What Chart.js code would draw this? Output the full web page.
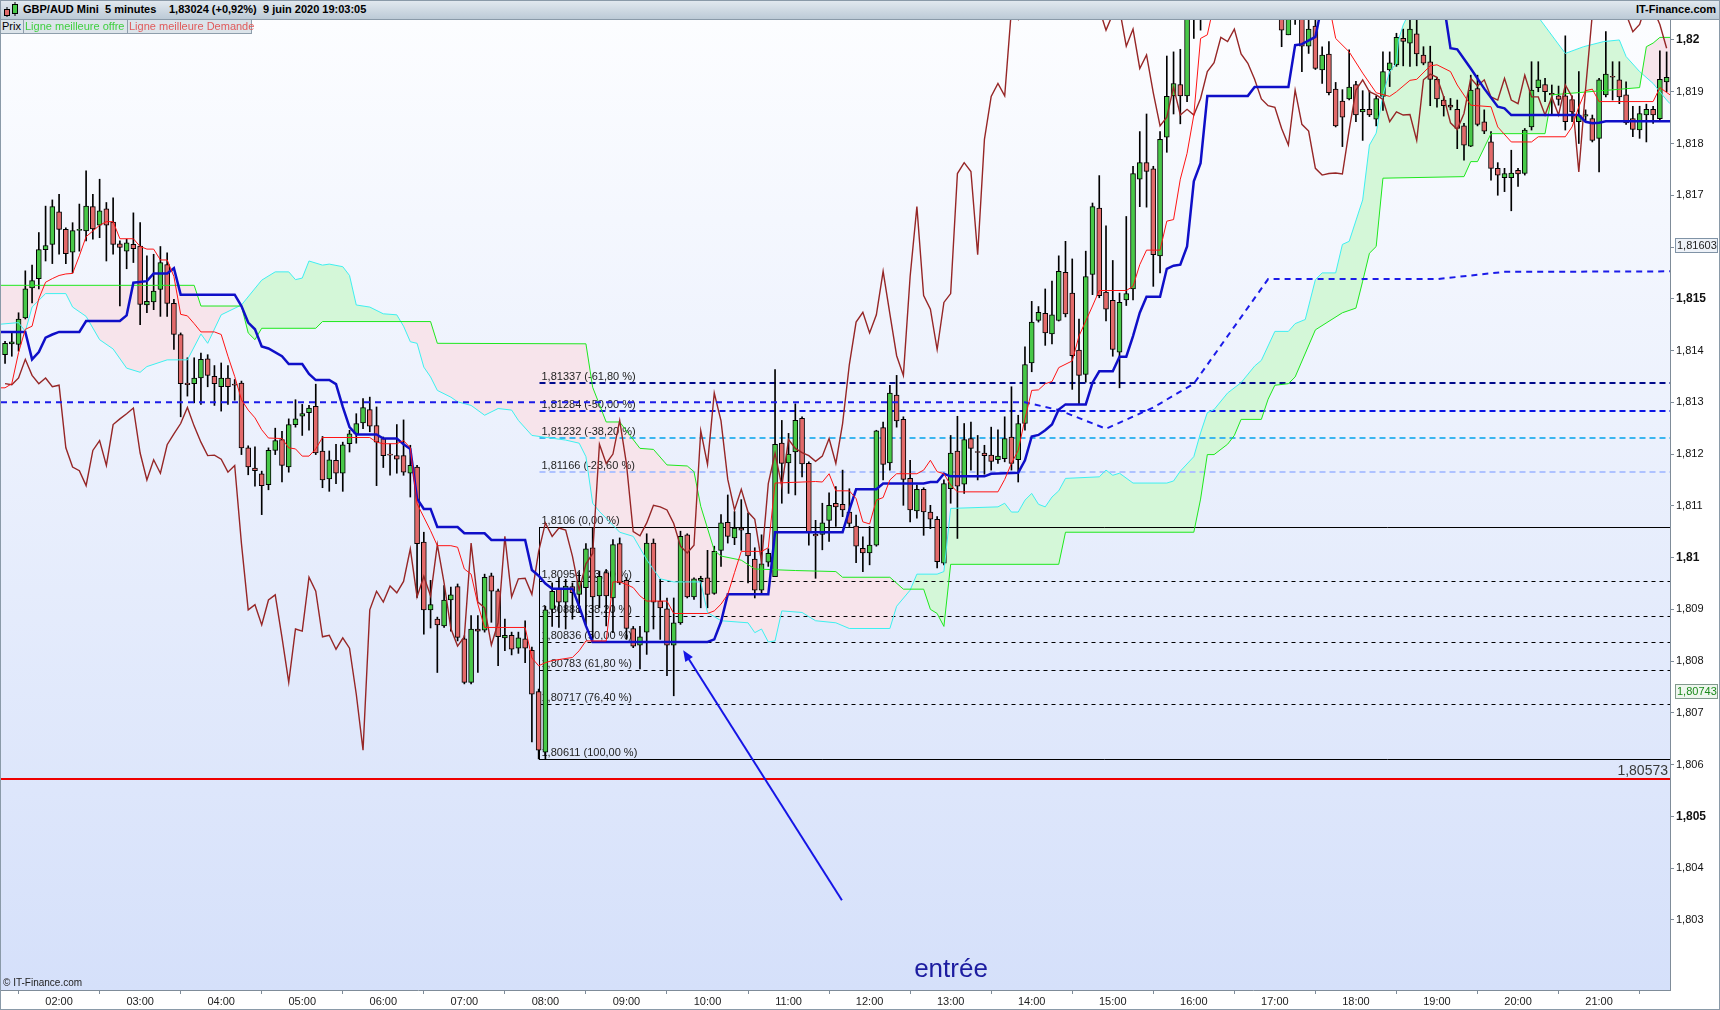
<!DOCTYPE html>
<html>
<head>
<meta charset="utf-8">
<script src="https://cdn.jsdelivr.net/npm/chart.js@4.4.1/dist/chart.umd.min.js"></script>
<style>
  body { margin: 0; width: 1720px; height: 1010px; overflow: hidden; background: #fff; font-family: "Liberation Sans", Arial, sans-serif; }
  #hdr { position: absolute; left: 0; top: 0; width: 1720px; height: 19px; border-bottom: 1px solid #8a9aa8;
         background: linear-gradient(#e3eaf0, #bccad6); font-weight: bold; font-size: 11px; color: #000; }
  #hdr span { position: absolute; top: 3px; white-space: nowrap; }
  #hdr svg { position: absolute; left: 2px; top: 2px; }
  #tabs { position: absolute; left: 0; top: 20px; height: 14px; z-index: 3; font-size: 11px; }
  #tabs div { position: absolute; top: 0; height: 13px; line-height: 13px; border: 1px solid #8e9eac; border-top: 0;
              background: #dce4ea; padding: 0 1px; white-space: nowrap; }
  #wrap { position: absolute; left: 0; top: 20px; width: 1720px; height: 990px; }
  #frame { position: absolute; left: 0; top: 0; width: 1720px; height: 1010px; box-sizing: border-box;
           border: 1px solid #8a9aa8; pointer-events: none; z-index: 4; }
  #entree { position: absolute; left: 951px; top: 953px; transform: translateX(-50%); font-size: 26px; color: #1c1ca0; z-index: 3; }
  #copy { position: absolute; left: 3px; top: 977px; font-size: 10px; color: #222; z-index: 3; }
</style>
</head>
<body>
<div id="hdr">
  <svg width="18" height="16" viewBox="0 0 18 16">
    <line x1="5" y1="5" x2="5" y2="15" stroke="#000"/><rect x="2.5" y="7.5" width="5" height="6" fill="#e26a6a" stroke="#000"/>
    <line x1="13" y1="0" x2="13" y2="14" stroke="#000"/><rect x="10.5" y="2.5" width="5" height="9" fill="#48c848" stroke="#000"/>
  </svg>
  <span style="left:23px">GBP/AUD Mini</span>
  <span style="left:105px">5 minutes</span>
  <span style="left:169px">1,83024 (+0,92%)</span>
  <span style="left:263px">9 juin 2020 19:03:05</span>
  <span style="right:4px">IT-Finance.com</span>
</div>
<div id="tabs">
  <div style="left:0;width:20px">Prix</div>
  <div style="left:23px;width:101px;color:#3fcf3f">Ligne meilleure offre</div>
  <div style="left:127px;width:121px;color:#e05a5a">Ligne meilleure Demande</div>
</div>
<div id="wrap"><canvas id="c" width="1720" height="990"></canvas></div>
<div id="entree">entrée</div>
<div id="copy">© IT-Finance.com</div>
<div id="frame"></div>
<script>
// 5-minute candles, index 0 = 01:20
const openP = [1.81392,1.81413,1.81412,1.81463,1.81521,1.81539,1.81595,1.81605,1.81668,1.81634,
1.81590,1.81632,1.81631,1.81678,1.81642,1.81674,1.81648,1.81606,1.81592,1.81605,
1.81602,1.81488,1.81494,1.81518,1.81566,1.81491,1.81431,1.81337,1.81336,1.81347,
1.81384,1.81350,1.81330,1.81347,1.81335,1.81337,1.81212,1.81173,1.81162,1.81141,
1.81207,1.81228,1.81175,1.81257,1.81273,1.81280,1.81292,1.81206,1.81152,1.81188,
1.81163,1.81220,1.81239,1.81260,1.81286,1.81255,1.81230,1.81199,1.81197,1.81197,
1.81163,1.81175,1.81030,1.80899,1.80881,1.80868,1.80918,1.80944,1.80843,1.80759,
1.80862,1.80860,1.80965,1.80936,1.80845,1.80850,1.80825,1.80843,1.80821,1.80741,
1.80624,1.80900,1.80940,1.80914,1.80944,1.80929,1.80942,1.81019,1.80926,1.80971,
1.80922,1.81027,1.80956,1.80863,1.80831,1.80856,1.81028,1.80916,1.80901,1.80831,
1.80874,1.81044,1.80924,1.80956,1.80961,1.80931,1.81014,1.81068,1.81038,1.81057,
1.81047,1.80997,1.80937,1.80991,1.80963,1.81221,1.81183,1.81204,1.81269,1.81182,
1.81045,1.81045,1.81072,1.81105,1.81103,1.81088,1.81061,1.81018,1.81009,1.81024,
1.81251,1.81183,1.81314,1.81267,1.81153,1.81090,1.81132,1.81088,1.81074,1.80989,
1.81133,1.81206,1.81142,1.81230,1.81205,1.81202,1.81198,1.81189,1.81191,1.81233,
1.81189,1.81259,1.81376,1.81458,1.81472,1.81432,1.81458,1.81551,1.81511,1.81401,
1.81354,1.81547,1.81675,1.81513,1.81497,1.81397,1.81498,1.81519,1.81731,1.81763,
1.81751,1.81583,1.81812,1.81892,1.81914,1.81892,1.82045,1.82040,1.82090,1.82130,
1.82110,1.82140,1.82120,1.82100,1.82130,1.82090,1.82080,1.82100,1.82070,1.82050,
1.82010,1.82050,1.82050,1.81988,1.82027,1.81942,1.81973,1.81905,1.81882,1.81886,
1.81914,1.81861,1.81866,1.81847,1.81891,1.81942,1.81952,1.82003,1.81994,1.82012,
1.81971,1.81958,1.81924,1.81884,1.81874,1.81866,1.81834,1.81795,1.81906,1.81842,
1.81803,1.81752,1.81734,1.81734,1.81748,1.81742,1.81832,1.81908,1.81914,1.81897,
1.81892,1.81892,1.81885,1.81842,1.81853,1.81848,1.81810,1.81894,1.81930,1.81923,
1.81894,1.81848,1.81826,1.81855,1.81866,1.81848,1.81919];
const highP = [1.81418,1.81434,1.81473,1.81554,1.81565,1.81628,1.81679,1.81691,1.81702,1.81637,
1.81647,1.81683,1.81747,1.81702,1.81731,1.81686,1.81695,1.81612,1.81615,1.81666,
1.81647,1.81583,1.81586,1.81601,1.81589,1.81499,1.81434,1.81386,1.81386,1.81395,
1.81392,1.81371,1.81376,1.81371,1.81344,1.81341,1.81216,1.81214,1.81167,1.81212,
1.81250,1.81244,1.81268,1.81305,1.81296,1.81294,1.81335,1.81234,1.81206,1.81219,
1.81223,1.81246,1.81278,1.81307,1.81310,1.81291,1.81233,1.81220,1.81257,1.81266,
1.81217,1.81178,1.81049,1.80956,1.80885,1.80946,1.80943,1.80949,1.80849,1.80888,
1.80888,1.80968,1.80970,1.80939,1.80881,1.80856,1.80856,1.80878,1.80827,1.80746,
1.80906,1.80951,1.80961,1.80958,1.80951,1.80971,1.81027,1.81057,1.80974,1.80977,
1.81035,1.81038,1.80961,1.80867,1.80867,1.81046,1.81036,1.80958,1.80922,1.80922,
1.81051,1.81046,1.80961,1.80964,1.81014,1.81022,1.81083,1.81121,1.81089,1.81112,
1.81086,1.81019,1.81044,1.81017,1.81363,1.81265,1.81240,1.81297,1.81272,1.81185,
1.81072,1.81105,1.81125,1.81137,1.81169,1.81133,1.81082,1.81040,1.81060,1.81246,
1.81262,1.81333,1.81352,1.81272,1.81188,1.81140,1.81135,1.81101,1.81079,1.81150,
1.81236,1.81273,1.81259,1.81262,1.81236,1.81217,1.81252,1.81247,1.81272,1.81330,
1.81275,1.81407,1.81495,1.81485,1.81519,1.81534,1.81583,1.81611,1.81577,1.81461,
1.81592,1.81685,1.81738,1.81641,1.81574,1.81511,1.81659,1.81756,1.81823,1.81857,
1.81756,1.81823,1.81969,1.81977,1.81982,1.82080,1.82090,1.82110,1.82150,1.82180,
1.82160,1.82200,1.82170,1.82150,1.82170,1.82130,1.82120,1.82130,1.82100,1.82070,
1.82070,1.82080,1.82070,1.82045,1.82045,1.81987,1.81997,1.81918,1.81904,1.81981,
1.81920,1.81902,1.81902,1.81892,1.81977,1.81977,1.82013,1.82021,1.82045,1.82045,
1.81987,1.81988,1.81928,1.81891,1.81887,1.81884,1.81839,1.81932,1.81932,1.81865,
1.81823,1.81763,1.81752,1.81787,1.81752,1.81829,1.81958,1.81958,1.81926,1.81913,
1.81911,1.82008,1.81892,1.81939,1.81865,1.81855,1.81926,1.82016,1.81958,1.81958,
1.81919,1.81872,1.81872,1.81876,1.81872,1.81979,1.81977];
const lowP = [1.81375,1.81389,1.81399,1.81461,1.81492,1.81519,1.81573,1.81568,1.81586,1.81568,
1.81550,1.81592,1.81612,1.81615,1.81618,1.81573,1.81586,1.81486,1.81558,1.81570,
1.81450,1.81473,1.81479,1.81466,1.81466,1.81402,1.81272,1.81312,1.81299,1.81296,
1.81330,1.81294,1.81283,1.81296,1.81304,1.81199,1.81160,1.81138,1.81083,1.81131,
1.81199,1.81146,1.81165,1.81252,1.81236,1.81246,1.81199,1.81135,1.81128,1.81143,
1.81128,1.81204,1.81221,1.81249,1.81243,1.81139,1.81174,1.81159,1.81163,1.81159,
1.81117,1.80923,1.80852,1.80864,1.80778,1.80865,1.80858,1.80839,1.80756,1.80756,
1.80778,1.80856,1.80875,1.80791,1.80820,1.80812,1.80815,1.80797,1.80644,1.80611,
1.80611,1.80867,1.80865,1.80862,1.80881,1.80894,1.80868,1.80842,1.80903,1.80868,
1.80855,1.80948,1.80842,1.80826,1.80785,1.80813,1.80862,1.80842,1.80772,1.80733,
1.80871,1.80922,1.80919,1.80903,1.80903,1.80929,1.80983,1.81028,1.81025,1.81014,
1.80951,1.80922,1.80932,1.80983,1.80963,1.81105,1.81124,1.81121,1.81156,1.81024,
1.80960,1.81015,1.81031,1.81060,1.81079,1.81060,1.80990,1.80973,1.80986,1.81022,
1.81150,1.81169,1.81252,1.81101,1.81069,1.81076,1.81043,1.81056,1.80980,1.80986,
1.81105,1.81037,1.81124,1.81169,1.81150,1.81161,1.81169,1.81182,1.81185,1.81169,
1.81146,1.81246,1.81359,1.81455,1.81410,1.81413,1.81457,1.81465,1.81325,1.81296,
1.81339,1.81508,1.81502,1.81457,1.81389,1.81328,1.81487,1.81498,1.81678,1.81677,
1.81524,1.81550,1.81783,1.81857,1.81838,1.81881,1.82003,1.82019,1.82060,1.82090,
1.82070,1.82100,1.82080,1.82060,1.82080,1.82055,1.82050,1.82060,1.82045,1.81987,
1.82010,1.82030,1.81939,1.81974,1.81943,1.81916,1.81894,1.81832,1.81794,1.81884,
1.81842,1.81806,1.81852,1.81834,1.81864,1.81910,1.81949,1.81950,1.81949,1.81950,
1.81952,1.81873,1.81870,1.81853,1.81865,1.81790,1.81768,1.81794,1.81834,1.81819,
1.81729,1.81700,1.81707,1.81670,1.81717,1.81739,1.81826,1.81900,1.81881,1.81855,
1.81874,1.81826,1.81842,1.81800,1.81842,1.81803,1.81745,1.81890,1.81884,1.81877,
1.81837,1.81813,1.81810,1.81803,1.81839,1.81846,1.81900];
const closeP = [1.81414,1.81417,1.81461,1.81519,1.81535,1.81595,1.81603,1.81678,1.81634,1.81587,
1.81632,1.81634,1.81679,1.81635,1.81670,1.81642,1.81605,1.81599,1.81608,1.81597,
1.81489,1.81495,1.81515,1.81570,1.81491,1.81431,1.81336,1.81334,1.81347,1.81383,
1.81352,1.81336,1.81347,1.81330,1.81333,1.81212,1.81175,1.81168,1.81139,1.81207,
1.81226,1.81178,1.81257,1.81268,1.81278,1.81289,1.81202,1.81150,1.81189,1.81163,
1.81218,1.81239,1.81259,1.81290,1.81254,1.81223,1.81197,1.81198,1.81190,1.81165,
1.81178,1.81027,1.80899,1.80909,1.80870,1.80918,1.80928,1.80846,1.80759,1.80862,
1.80858,1.80962,1.80935,1.80847,1.80850,1.80823,1.80845,1.80825,1.80736,1.80628,
1.80899,1.80935,1.80914,1.80945,1.80932,1.80954,1.81017,1.80924,1.80964,1.80926,
1.81025,1.80951,1.80863,1.80829,1.80847,1.81028,1.80914,1.80903,1.80831,1.80874,
1.81041,1.80924,1.80959,1.80960,1.80929,1.81012,1.81067,1.81041,1.81057,1.81053,
1.81003,1.80937,1.80988,1.81008,1.81219,1.81182,1.81200,1.81265,1.81181,1.81050,
1.81042,1.81067,1.81101,1.81098,1.81092,1.81066,1.81022,1.81009,1.81024,1.81245,
1.81180,1.81318,1.81264,1.81151,1.81092,1.81132,1.81088,1.81074,1.80992,1.81143,
1.81202,1.81138,1.81228,1.81211,1.81203,1.81197,1.81186,1.81196,1.81230,1.81182,
1.81259,1.81373,1.81455,1.81474,1.81434,1.81469,1.81553,1.81471,1.81390,1.81352,
1.81543,1.81678,1.81506,1.81480,1.81402,1.81493,1.81510,1.81742,1.81763,1.81746,
1.81585,1.81808,1.81891,1.81916,1.81892,1.82060,1.82040,1.82090,1.82130,1.82110,
1.82140,1.82120,1.82100,1.82130,1.82090,1.82080,1.82100,1.82070,1.82060,1.82019,
1.82050,1.82060,1.81988,1.82021,1.81945,1.81971,1.81898,1.81834,1.81851,1.81909,
1.81855,1.81866,1.81855,1.81887,1.81939,1.81956,1.82005,1.81997,1.82021,1.81973,
1.81955,1.81924,1.81886,1.81873,1.81870,1.81829,1.81797,1.81903,1.81837,1.81824,
1.81752,1.81739,1.81742,1.81743,1.81741,1.81826,1.81903,1.81923,1.81900,1.81894,
1.81885,1.81842,1.81861,1.81855,1.81856,1.81806,1.81923,1.81934,1.81928,1.81890,
1.81840,1.81827,1.81858,1.81866,1.81855,1.81924,1.81928];

// lagging line (dark red), one value per candle index
const chikouVals = [1.81336,1.81334,1.81347,1.81383,1.81352,1.81336,1.81347,1.81330,1.81333,1.81212,
1.81175,1.81168,1.81139,1.81207,1.81226,1.81178,1.81257,1.81268,1.81278,1.81289,
1.81202,1.81150,1.81189,1.81163,1.81218,1.81239,1.81259,1.81290,1.81254,1.81223,
1.81197,1.81198,1.81190,1.81165,1.81178,1.81027,1.80899,1.80909,1.80870,1.80918,
1.80928,1.80846,1.80759,1.80862,1.80858,1.80962,1.80935,1.80847,1.80850,1.80823,
1.80845,1.80825,1.80736,1.80628,1.80899,1.80935,1.80914,1.80945,1.80932,1.80954,
1.81017,1.80924,1.80964,1.80926,1.81025,1.80951,1.80863,1.80829,1.80847,1.81028,
1.80914,1.80903,1.80831,1.80874,1.81041,1.80924,1.80959,1.80960,1.80929,1.81012,
1.81067,1.81041,1.81057,1.81053,1.81003,1.80937,1.80988,1.81008,1.81219,1.81182,
1.81200,1.81265,1.81181,1.81050,1.81042,1.81067,1.81101,1.81098,1.81092,1.81066,
1.81022,1.81009,1.81024,1.81245,1.81180,1.81318,1.81264,1.81151,1.81092,1.81132,
1.81088,1.81074,1.80992,1.81143,1.81202,1.81138,1.81228,1.81211,1.81203,1.81197,
1.81186,1.81196,1.81230,1.81182,1.81259,1.81373,1.81455,1.81474,1.81434,1.81469,
1.81553,1.81471,1.81390,1.81352,1.81543,1.81678,1.81506,1.81480,1.81402,1.81493,
1.81510,1.81742,1.81763,1.81746,1.81585,1.81808,1.81891,1.81916,1.81892,1.82060,
1.82040,1.82090,1.82130,1.82110,1.82140,1.82120,1.82100,1.82130,1.82090,1.82080,
1.82100,1.82070,1.82060,1.82019,1.82050,1.82060,1.81988,1.82021,1.81945,1.81971,
1.81898,1.81834,1.81851,1.81909,1.81855,1.81866,1.81855,1.81887,1.81939,1.81956,
1.82005,1.81997,1.82021,1.81973,1.81955,1.81924,1.81886,1.81873,1.81870,1.81829,
1.81797,1.81903,1.81837,1.81824,1.81752,1.81739,1.81742,1.81743,1.81741,1.81826,
1.81903,1.81923,1.81900,1.81894,1.81885,1.81842,1.81861,1.81855,1.81856,1.81806,
1.81923,1.81934,1.81928,1.81890,1.81840,1.81827,1.81858,1.81926,1.81911,1.81923,
1.81890,1.81884,1.81926,1.81884,1.81877,1.81932,1.81890,1.81890,1.81855,1.81890,
1.81855,1.81913,1.81890,1.81745,1.81905,1.82050,1.82070,1.82080,1.82070,1.82060,
1.82050,1.82016,1.82030,1.82070,1.82060,1.82030,1.81984];

// [candle index, price] vertices of the other indicator lines
const tenkanPts = [[-0.6,1.81328],[0,1.81328],[1,1.81336],[2,1.81396],[3,1.81441],[4,1.81447],[5,1.815],[6,1.81532],[7,1.81539],[8,1.81545],[9,1.81548],[10,1.81549],[11,1.81583],[12,1.8162],[13,1.81631],[14,1.81642],[15,1.81649],[16,1.81649],[17,1.81616],[19,1.81616],[20,1.81601],[21,1.81596],[22,1.81596],[23,1.81575],[24,1.81575],[25,1.81543],[26,1.8147],[27,1.81467],[28,1.81452],[29,1.81436],[31,1.81436],[32,1.81431],[33,1.81389],[34,1.8135],[35,1.81305],[36,1.81285],[37,1.8127],[38,1.81247],[39,1.81231],[41,1.8123],[42,1.81212],[43,1.8121],[44,1.81196],[45,1.81196],[46,1.8121],[47,1.81232],[54,1.81232],[55,1.81223],[56,1.8122],[58,1.8122],[59,1.81226],[60,1.81212],[61,1.81104],[62,1.81078],[63,1.81052],[64,1.81023],[66,1.81023],[67,1.8102],[68,1.80978],[69,1.80968],[70,1.8091],[71,1.80865],[77,1.80865],[78,1.80806],[79,1.80791],[80,1.80797],[81,1.80801],[84,1.80807],[85,1.8082],[86,1.80839],[89,1.80839],[90,1.80953],[91,1.80953],[92,1.80948],[93,1.80942],[94,1.80926],[95,1.80916],[98,1.80916],[99,1.80892],[104,1.80892],[105,1.80897],[106,1.8091],[107,1.80929],[108,1.80971],[109,1.81012],[112,1.81012],[113,1.81019],[114,1.81144],[120,1.81147],[121,1.81146],[122,1.81162],[123,1.81129],[125,1.81129],[126,1.81114],[127,1.81069],[128,1.81065],[129,1.81111],[130,1.81116],[131,1.8115],[132,1.81162],[135,1.81162],[136,1.81169],[137,1.81188],[138,1.81166],[139,1.81162],[140,1.8114],[141,1.81127],[147,1.81127],[148,1.81151],[149,1.81182],[150,1.81207],[151,1.81268],[152,1.81323],[153,1.81324],[154,1.81336],[155,1.8134],[156,1.81367],[158,1.8138],[159,1.81428],[160,1.81457],[161,1.81486],[162,1.81516],[166,1.81516],[167,1.81524],[168,1.81566],[169,1.81594],[171,1.81594],[172,1.8165],[173,1.81653],[174,1.81731],[175,1.81781],[176,1.81855],[177,1.82003],[178,1.8201],[179,1.8207],[196,1.8207],[197,1.82003],[199,1.81977],[201,1.81936],[203,1.81898],[205,1.81891],[206,1.819],[208,1.81922],[209,1.81924],[211,1.8195],[212,1.81952],[214,1.81939],[215,1.81913],[217,1.81874],[220,1.81871],[221,1.81832],[223,1.81803],[226,1.81803],[227,1.81813],[231,1.81813],[232,1.81832],[233,1.81871],[234,1.81902],[235,1.81905],[236,1.81881],[244,1.81881],[245,1.81908],[246.5,1.81894]];
const kijunPts = [[-0.6,1.81436],[3,1.81436],[4,1.81383],[5,1.81397],[6,1.81425],[7,1.81431],[8,1.81436],[11,1.81436],[12,1.81457],[17,1.81457],[18,1.81468],[19,1.81531],[21,1.81534],[22,1.81549],[24,1.81549],[25,1.81559],[26,1.81508],[34,1.81508],[35,1.81486],[36,1.81454],[37,1.81441],[38,1.81408],[39,1.81404],[41,1.81389],[42,1.81374],[44,1.81374],[45,1.81355],[46,1.81343],[48,1.81343],[49,1.81335],[50,1.81291],[51,1.81252],[52,1.81238],[55,1.81238],[56,1.8123],[58,1.8123],[59,1.81219],[60,1.8121],[61,1.81114],[62,1.81094],[63,1.81094],[64,1.81059],[67,1.81059],[68,1.81047],[71,1.81047],[72,1.81034],[77,1.81034],[78,1.80976],[79,1.80965],[80,1.8095],[81,1.8094],[84,1.8094],[85,1.80906],[86,1.80868],[87,1.80837],[104,1.80837],[105,1.80842],[106,1.80876],[107,1.80929],[113,1.80929],[114,1.81049],[124,1.81049],[125,1.81092],[126,1.81132],[129,1.81132],[130,1.81143],[136,1.81143],[137,1.81146],[138,1.81146],[139,1.81162],[140,1.81157],[145,1.81157],[146,1.81162],[150,1.81164],[151,1.81188],[152,1.81234],[153,1.81237],[154,1.81246],[155,1.81257],[156,1.81286],[157,1.81296],[160,1.81296],[161,1.81338],[162,1.8136],[164,1.8136],[165,1.81388],[166,1.81388],[167,1.81428],[168,1.81473],[169,1.81504],[171,1.81504],[172,1.81558],[173,1.81564],[174,1.81566],[175,1.81601],[176,1.81727],[177,1.81762],[178,1.81892],[184,1.81892],[185,1.81909],[190,1.81909],[191,1.8199],[192,1.81992],[194,1.82006],[195,1.8207],[213,1.8207],[214,1.81984],[215,1.81982],[217,1.81945],[219,1.81906],[221,1.81871],[222,1.81868],[223,1.81855],[233,1.81855],[234,1.81842],[235,1.81839],[236,1.8184],[237,1.81843],[246.5,1.81843]];
const spanAPts = [[-0.6,1.81526],[28,1.81526],[29,1.81486],[35,1.81486],[36,1.81434],[37,1.81421],[38,1.81443],[46,1.81443],[47,1.81456],[63,1.81456],[64,1.81414],[86,1.81413],[87,1.81329],[89,1.81262],[91,1.81262],[94,1.81211],[96,1.81209],[98,1.81179],[101,1.81177],[102,1.81166],[103,1.81099],[105,1.81014],[106,1.81003],[109,1.80995],[111,1.80978],[117,1.80975],[123,1.80973],[124,1.80962],[131,1.80962],[133,1.80939],[136,1.80939],[137,1.809],[138,1.80892],[139,1.80867],[140,1.80987],[156,1.80987],[157,1.81049],[176,1.81049],[177,1.81113],[178,1.81199],[179,1.81199],[181,1.81219],[182,1.81236],[183,1.81267],[186,1.81267],[187,1.81306],[188,1.81333],[190,1.81336],[191,1.81349],[194,1.8144],[198,1.81473],[200,1.81482],[201,1.81534],[202,1.81588],[203,1.81601],[204,1.81733],[216,1.81736],[217,1.81765],[218,1.81765],[220,1.81819],[228,1.81819],[229,1.81894],[242,1.81908],[243,1.81987],[244,1.81994],[245,1.82005],[246.5,1.82005]];
const spanBPts = [[-0.6,1.81451],[2,1.81454],[3,1.81437],[4,1.81484],[6,1.8151],[9,1.8151],[10,1.81484],[12,1.81466],[14,1.81421],[16,1.81403],[18,1.81366],[20,1.81358],[21,1.81369],[24,1.81382],[27,1.81382],[29,1.81432],[30,1.81414],[32,1.81469],[35,1.81488],[38,1.81536],[40,1.81552],[42,1.81552],[43,1.81537],[44,1.8154],[45,1.81573],[47,1.81565],[48,1.81567],[50,1.81562],[51,1.81545],[52,1.81488],[54,1.81484],[56,1.81471],[58,1.81469],[59,1.81447],[60,1.81417],[61,1.81414],[62,1.81368],[63,1.81349],[64,1.81323],[66,1.8131],[67,1.81301],[69,1.81294],[71,1.81275],[73,1.81288],[75,1.81285],[76,1.81265],[78,1.81236],[83,1.81227],[85,1.81221],[86,1.81195],[87,1.81105],[88,1.81089],[89,1.81076],[91,1.81049],[93,1.81041],[95,1.80996],[96,1.80977],[97,1.80959],[99,1.80953],[103,1.80953],[104,1.80894],[106,1.80878],[110,1.80874],[111,1.80855],[112,1.80862],[113,1.80837],[114,1.80839],[115,1.80897],[118,1.80894],[120,1.80878],[123,1.80874],[125,1.80863],[131,1.80863],[132,1.80906],[134,1.80937],[135,1.80968],[138,1.80968],[139,1.80973],[140,1.81095],[147,1.81098],[148,1.81105],[149,1.81088],[150,1.81088],[151,1.81111],[152,1.81124],[153,1.81103],[154,1.81098],[155,1.81117],[156,1.81129],[157,1.81153],[162,1.81156],[163,1.81169],[164,1.81159],[165,1.81163],[167,1.81144],[172,1.81144],[173,1.81148],[174,1.81167],[176,1.81195],[177,1.81241],[178,1.8128],[179,1.81286],[181,1.81318],[183,1.81338],[185,1.8137],[186,1.81381],[188,1.81437],[190,1.81437],[191,1.81452],[192.5,1.8146],[194,1.81537],[195,1.8155],[197,1.8155],[198,1.81605],[199,1.81611],[201,1.81691],[202,1.81797],[203,1.8182],[204,1.81894],[205,1.81939],[206,1.81955],[206.3,1.82],[207,1.82029],[208.5,1.8207],[226,1.8207],[227.3,1.82039],[231,1.81974],[233.7,1.81987],[236.7,1.81997],[239,1.82],[240,1.81968],[242,1.81939],[244,1.81916],[246,1.81884],[246.5,1.81877]];
const dashedPts = [[-0.6,1.813],[151,1.813],[156,1.81285],[163,1.81249],[170,1.8129],[176,1.81336],[187,1.81538],[212,1.81538],[222,1.81552],[246.5,1.81553]];

// Fibonacci retracement drawn from the 08:00 low
const fibStart = 79;
const fibLevels = [1.81337,1.81284,1.81232,1.81166,1.8106,1.80954,1.80888,1.80836,1.80783,1.80717,1.80611];
const fibLabels = ['1,81337 (-61,80 %)','1,81284 (-50,00 %)','1,81232 (-38,20 %)','1,81166 (-23,60 %)','1,8106 (0,00 %)',
  '1,80954 (23,60 %)','1,80888 (38,20 %)','1,80836 (50,00 %)','1,80783 (61,80 %)','1,80717 (76,40 %)','1,80611 (100,00 %)'];
const stopLevel = 1.80573;
const stopLabel = '1,80573';
const axisMarks = [1.81603, 1.80743];
const axisMarkLabels = ['1,81603', '1,80743'];
const arrowFrom = [123.9, 1.80338];
const arrowTo = [100.4, 1.80821];

const hourTicks = [8,20,32,44,56,68,80,92,104,116,128,140,152,164,176,188,200,212,224,236];
const hourLabels = ['02:00','03:00','04:00','05:00','06:00','07:00','08:00','09:00','10:00','11:00','12:00','13:00','14:00','15:00','16:00','17:00','18:00','19:00','20:00','21:00'];
const priceTicks = [1.803,1.804,1.805,1.806,1.807,1.808,1.809,1.81,1.811,1.812,1.813,1.814,1.815,1.816,1.817,1.818,1.819,1.82];

Chart.defaults.font.family = '"Liberation Sans", Arial, sans-serif';
const GREEN = '#48c848', RED = '#e26a6a';
const pts = a => a.map(p => ({x: p[0], y: p[1]}));
const lineDs = (data, color, width, order, extra) => Object.assign({
  type: 'line', data: data, borderColor: color, borderWidth: width, pointRadius: 0,
  fill: false, tension: 0, order: order
}, extra || {});

const fibStyle = function(i) {
  if (i === 0) return {c: '#000a8c', w: 2, d: [6, 4]};
  if (i === 1) return {c: '#0a14e6', w: 2, d: [6, 4]};
  if (i === 2) return {c: '#3cb6f0', w: 2, d: [6, 4]};
  if (i === 3) return {c: '#aec2ff', w: 2, d: [6, 4]};
  if (i === 4 || i === 10) return {c: '#000', w: 1, d: []};
  return {c: '#000', w: 1, d: [4, 4]};
};

const deco = {
  id: 'deco',
  beforeDraw(chart) {
    const {ctx, chartArea: a} = chart;
    const g = ctx.createLinearGradient(0, a.top, 0, a.bottom);
    g.addColorStop(0, '#fcfdff');
    g.addColorStop(1, '#d5e0fa');
    ctx.save();
    ctx.fillStyle = g;
    ctx.fillRect(a.left, a.top, a.right - a.left, a.bottom - a.top);
    ctx.restore();
  },
  beforeDatasetsDraw(chart) {
    const {ctx, chartArea: a, scales: {x, y}} = chart;
    const x0 = Math.round(x.getPixelForValue(fibStart)) + 0.5;
    ctx.save();
    fibLevels.forEach((lv, i) => {
      const s = fibStyle(i);
      const py = Math.round(y.getPixelForValue(lv)) + (s.w === 1 ? 0.5 : 0);
      ctx.strokeStyle = s.c; ctx.lineWidth = s.w; ctx.setLineDash(s.d);
      ctx.beginPath(); ctx.moveTo(x0, py); ctx.lineTo(a.right, py); ctx.stroke();
    });
    ctx.setLineDash([]);
    ctx.strokeStyle = '#000'; ctx.lineWidth = 1;
    ctx.beginPath();
    ctx.moveTo(x0, Math.round(y.getPixelForValue(fibLevels[4])));
    ctx.lineTo(x0, Math.round(y.getPixelForValue(fibLevels[10])) + 1);
    ctx.stroke();
    ctx.fillStyle = '#222'; ctx.font = '11px "Liberation Sans", Arial, sans-serif';
    ctx.textAlign = 'left'; ctx.textBaseline = 'alphabetic';
    fibLevels.forEach((lv, i) => {
      ctx.fillText(fibLabels[i], x0 + 2, y.getPixelForValue(lv) - 3);
    });
    ctx.restore();
  },
  afterDatasetsDraw(chart) {
    const {ctx, chartArea: a, scales: {x, y}} = chart;
    ctx.save();
    const ry = Math.round(y.getPixelForValue(stopLevel));
    ctx.strokeStyle = '#ee0000'; ctx.lineWidth = 2;
    ctx.beginPath(); ctx.moveTo(a.left, ry); ctx.lineTo(a.right, ry); ctx.stroke();
    ctx.fillStyle = '#3a3a3a'; ctx.font = '14px "Liberation Sans", Arial, sans-serif';
    ctx.textAlign = 'right'; ctx.fillText(stopLabel, a.right - 2, ry - 4);
    // arrow pointing at the entry
    const fx = x.getPixelForValue(arrowFrom[0]), fy = y.getPixelForValue(arrowFrom[1]);
    const tx = x.getPixelForValue(arrowTo[0]), ty = y.getPixelForValue(arrowTo[1]);
    const ang = Math.atan2(ty - fy, tx - fx);
    ctx.strokeStyle = '#1515e6'; ctx.fillStyle = '#1515e6'; ctx.lineWidth = 2;
    ctx.beginPath(); ctx.moveTo(fx, fy); ctx.lineTo(tx - 6 * Math.cos(ang), ty - 6 * Math.sin(ang)); ctx.stroke();
    ctx.beginPath();
    ctx.moveTo(tx, ty);
    ctx.lineTo(tx - 11 * Math.cos(ang) + 4.5 * Math.sin(ang), ty - 11 * Math.sin(ang) - 4.5 * Math.cos(ang));
    ctx.lineTo(tx - 11 * Math.cos(ang) - 4.5 * Math.sin(ang), ty - 11 * Math.sin(ang) + 4.5 * Math.cos(ang));
    ctx.closePath(); ctx.fill();
    ctx.restore();
  },
  afterDraw(chart) {
    const {ctx, chartArea: a, scales: {y}} = chart;
    ctx.save();
    ctx.font = '11px "Liberation Sans", Arial, sans-serif';
    ctx.textAlign = 'left'; ctx.textBaseline = 'middle';
    axisMarks.forEach((v, i) => {
      const py = Math.round(y.getPixelForValue(v));
      const bx = a.right + 5;
      ctx.fillStyle = i === 0 ? '#eef2f8' : '#eef6ee';
      ctx.fillRect(bx, py - 7, 42, 14);
      ctx.strokeStyle = i === 0 ? '#8093a6' : '#809a8c'; ctx.lineWidth = 1;
      ctx.strokeRect(bx + 0.5, py - 6.5, 42, 14);
      ctx.fillStyle = i === 0 ? '#222' : '#1a8a1a';
      ctx.fillText(axisMarkLabels[i], bx + 2, py + 0.5);
    });
    ctx.restore();
  }
};

const datasets = [
  lineDs(pts(spanAPts), '#1ee81e', 1, 5, {fill: {target: 1, above: '#f7e4eb', below: '#d4f7d8'}}),
  lineDs(pts(spanBPts), '#3ef0f0', 1, 6),
  {
    type: 'bar', order: 8, grouped: false, barThickness: 1,
    data: lowP.map((l, i) => ({x: i, y: [l, highP[i]]})),
    backgroundColor: '#000', borderWidth: 0
  },
  {
    type: 'bar', order: 7, grouped: false, barThickness: 5, minBarLength: 1,
    data: openP.map((o, i) => ({x: i, y: [o, closeP[i]]})),
    backgroundColor: openP.map((o, i) => closeP[i] >= o ? GREEN : RED),
    borderColor: '#000', borderWidth: 1, borderSkipped: false
  },
  lineDs(chikouVals.map((v, i) => ({x: i, y: v})), '#962626', 1.4, 4),
  lineDs(pts(dashedPts), '#1b1be8', 2, 3, {borderDash: [6, 5]}),
  lineDs(pts(kijunPts), '#0f0fc8', 2.5, 2),
  lineDs(pts(tenkanPts), '#ff1414', 1, 1)
];

new Chart(document.getElementById('c'), {
  type: 'bar',
  data: {datasets: datasets},
  plugins: [deco],
  options: {
    responsive: false, animation: false, devicePixelRatio: 1,
    layout: {padding: {left: 1, right: 0, top: 0, bottom: 0}},
    plugins: {legend: {display: false}, tooltip: {enabled: false}, filler: {drawTime: 'beforeDatasetsDraw', propagate: false}},
    scales: {
      x: {
        type: 'linear', min: -0.6, max: 246.5, offset: false,
        grid: {display: true, drawOnChartArea: false, drawTicks: true, tickLength: 4, color: '#7f8c99'},
        border: {display: true, color: '#7f8c99'},
        afterBuildTicks: s => { s.ticks = hourTicks.map(v => ({value: v})); },
        afterFit: s => { s.height = 20; s.paddingLeft = 0; s.paddingRight = 0; },
        ticks: {
          autoSkip: false, maxRotation: 0, padding: 1, color: '#222', font: {size: 11},
          callback: v => hourLabels[hourTicks.indexOf(v)]
        }
      },
      y: {
        type: 'linear', position: 'right', min: 1.801646, max: 1.820386,
        grid: {display: true, drawOnChartArea: false, drawTicks: true, tickLength: 4, color: '#7f8c99'},
        border: {display: true, color: '#7f8c99'},
        afterBuildTicks: s => { s.ticks = priceTicks.map(v => ({value: v})); },
        afterFit: s => { s.width = 50; s.paddingTop = 0; s.paddingBottom = 0; },
        ticks: {
          padding: 2, color: '#111',
          font: c => (c.tick && Math.round(c.tick.value * 1000) % 5 === 0) ? {size: 12, weight: 'bold'} : {size: 11},
          callback: v => (+v).toFixed(3).replace(/0+$/, '').replace(/\.$/, '').replace('.', ',')
        }
      }
    }
  }
});
</script>
</body>
</html>
